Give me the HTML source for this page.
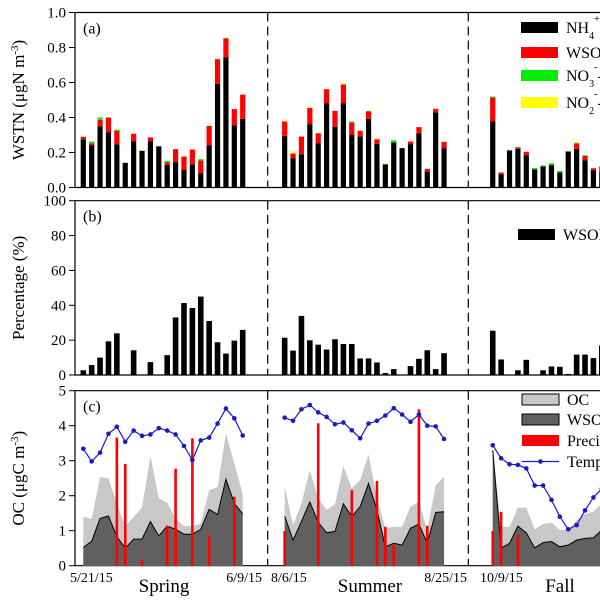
<!DOCTYPE html>
<html><head><meta charset="utf-8"><style>
html,body{margin:0;padding:0;background:#fff;}
svg{display:block;font-family:"Liberation Serif",serif;}
</style></head><body>
<svg id="chart" width="600" height="600" viewBox="0 0 600 600" xmlns="http://www.w3.org/2000/svg"></svg>
<script>
// ---- data ----
const seasons = ["Spring","Summer","Fall"];
const dateLabels = ["5/21/15","6/9/15","8/6/15","8/25/15","10/9/15"];
// panel a components (µgN m-3)
const nh4Spring = [0.276,0.24,0.349,0.316,0.246,0.141,0.263,0.21,0.263,0.234,0.13,0.143,0.10,0.131,0.082,0.24,0.592,0.743,0.356,0.392];
const wsonSpring = [0.014,0.013,0.038,0.084,0.078,0,0.044,0,0.023,0,0.015,0.076,0.077,0.086,0.072,0.112,0.141,0.108,0.092,0.139];
const no3Spring = [0,0.01,0.013,0,0.007,0,0,0,0,0.004,0.007,0,0,0,0.008,0,0.003,0.004,0,0];
const no2Spring = [0,0,0,0,0,0,0,0.004,0,0,0,0,0,0,0,0.004,0,0,0,0];
const nh4Summer = [0.295,0.168,0.19,0.36,0.253,0.48,0.347,0.482,0.30,0.291,0.392,0.25,0.133,0.257,0.225,0.248,0.31,0.091,0.429,0.225];
const wsonSummer = [0.082,0.026,0.101,0.095,0.057,0.082,0.091,0.107,0.071,0.033,0.042,0.026,0,0,0,0.015,0.035,0.016,0.021,0.036];
const no3Summer = [0,0,0,0,0,0,0,0,0.006,0,0.004,0,0,0.013,0,0,0,0,0,0];
const no2Summer = [0.006,0.012,0,0.006,0,0,0,0.007,0,0,0,0.006,0.004,0,0,0,0,0,0,0];
const nh4Fall = [0.377,0.076,0.211,0.221,0.185,0.103,0.12,0.128,0.086,0.206,0.221,0.156,0.097,0.09];
const wsonFall = [0.137,0.01,0,0.008,0.019,0,0,0,0,0,0.032,0.025,0.013,0.03];
const no3Fall = [0.006,0,0.004,0.003,0,0.008,0.006,0.011,0.009,0,0,0.004,0,0];
const no2Fall = [0,0,0,0,0,0,0,0,0,0,0.006,0,0,0];
// panel b (%)
const pctSpring = [2.7,5.7,10,19.3,23.9,0,14.2,0,7.4,0,11.4,33,41.3,38.4,45,31,18.8,12.3,19.7,25.9];
const pctSummer = [21.4,14,33.9,19.9,17.4,14.6,20.5,17.8,17.8,9.5,9.5,7.2,1.1,3.4,0,5.1,9.3,14.2,3.4,12.5];
const pctFall = [25.4,8.9,0,2.7,8.7,0,2.7,4.9,4.7,0.6,11.7,11.7,9.7,16.9];
// panel c
const ocSpring = [1.40,1.34,2.53,2.50,1.78,1.13,1.39,1.67,3.13,1.93,1.80,1.35,1.13,1.13,1.21,2.16,2.24,3.78,2.92,2.05];
const wsocSpring = [0.52,0.70,1.35,1.42,0.83,0.50,0.76,0.76,1.26,0.85,1.13,1.04,0.90,0.90,1.04,1.61,1.46,2.47,1.78,1.48];
const precipSpring = [0,0,0,0,3.66,2.91,0,0.18,0,0,1.14,2.77,0,3.64,0,0.85,0,0,1.97,0];
const tempSpring = [3.34,2.98,3.23,3.77,3.97,3.54,3.86,3.71,3.75,3.93,3.86,3.75,3.42,3.02,3.58,3.66,4.06,4.49,4.21,3.72];
const ocSummer = [2.28,1.16,1.78,2.73,1.92,1.59,1.76,2.85,2.21,2.45,3.18,1.92,1.07,1.11,1.11,1.69,1.83,1.02,2.30,2.54];
const wsocSummer = [1.42,0.73,1.26,1.82,1.24,0.94,0.98,1.77,1.40,1.69,2.35,1.59,0.54,0.64,0.59,1.07,1.19,0.64,1.52,1.54];
const precipSummer = [0.99,0,0,0,4.07,0,0,0,2.16,0,0,2.42,1.11,0.59,0,0,4.47,1.14,0,0];
const tempSummer = [4.23,4.14,4.47,4.59,4.38,4.25,4.04,4.09,3.87,3.64,4.06,4.14,4.29,4.50,4.32,4.11,4.32,4.00,3.98,3.62];
const ocFall = [3.30,1.11,1.11,1.66,1.66,1.04,1.19,1.23,1.02,1.02,1.30,1.48,1.54,1.78];
const wsocFall = [3.30,0.50,0.64,1.13,0.94,0.51,0.66,0.69,0.54,0.59,0.73,0.78,0.80,1.02];
const precipFall = [0.99,1.54,0,0.88,0,0,0,0,0,0,0,0,0,0];
const tempFall = [3.44,3.07,2.90,2.88,2.78,2.29,2.29,1.88,1.40,1.04,1.16,1.58,1.95,2.2];
const ticksA = ["0.0","0.2","0.4","0.6","0.8","1.0"];
const ticksB = ["0","20","40","60","80","100"];
const ticksC = ["0","1","2","3","4","5"];

// ---- layout ----
const NS="http://www.w3.org/2000/svg";
const svg=document.getElementById('chart');
function mk(tag,attrs,parent){const e=document.createElementNS(NS,tag);for(const k in attrs)e.setAttribute(k,attrs[k]);(parent||svg).appendChild(e);return e;}
const seasonStart=[0,24,48.8];
function xS(season,i){return 83.3+(seasonStart[season]+i)*8.39;}
const panels=[{top:12.5,bot:187.5,max:1},{top:200.7,bot:375,max:100},{top:390.7,bot:565.7,max:5}];
function yS(p,v){const P=panels[p];return P.bot-(v/P.max)*(P.bot-P.top);}
const L=75,R=600;

// axes frames
const tickSets=[ticksA,ticksB,ticksC];
const titles=["WSTN (μgN m","Percentage (%)","OC (μgC m"];
panels.forEach((P,p)=>{
  const g=mk('g',{});
  
  
  const ax=mk('path',{d:`M${L},${P.top}H${R}M${L},${P.top}V${P.bot}H${R}`,stroke:'#000','stroke-width':1.2,fill:'none'},g);
  
  
  tickSets[p].forEach(t=>{
    const y=yS(p,parseFloat(t));
    const tk=mk('line',{x1:L-6,x2:L,y1:y,y2:y,stroke:'#000','stroke-width':1},g);
    
    
    const tx=mk('text',{x:L-9,y:y+5,'text-anchor':'end','font-size':15},g);
    
    
    tx.textContent=t;
  });
  [267.7,468.3].forEach(x=>{
    const d=mk('line',{x1:x,x2:x,y1:P.top,y2:P.bot,stroke:'#000','stroke-width':1.2,'stroke-dasharray':'9,5'},g);
    
    
  });
  const lb=mk('text',{x:83,y:P.top+21,'font-size':16},g);
  
  
  lb.textContent='('+'abc'[p]+')';
  const cy=(P.top+P.bot)/2;
  const yt=mk('text',{x:0,y:0,'font-size':17,'text-anchor':'middle',transform:`translate(24,${cy}) rotate(-90)`},g);
  
  
  yt.textContent=titles[p];
  if(p!==1){const s=mk('tspan',{'baseline-shift':'super','font-size':11},yt);s.textContent='-3';const s2=mk('tspan',{},yt);s2.textContent=')';}
});

// panel a bars
const aData=[[nh4Spring,wsonSpring,no3Spring,no2Spring],[nh4Summer,wsonSummer,no3Summer,no2Summer],[nh4Fall,wsonFall,no3Fall,no2Fall]];
const aCols=['#000','#ff0000','#00ee00','#ffff00'];
const aNames=['nh4','wson','no3','no2'];
aData.forEach((sd,s)=>{
  sd[0].forEach((_,i)=>{
    let cum=0;
    for(let k=0;k<4;k++){
      const v=sd[k][i]; if(!v)continue;
      const y1=yS(0,cum+v),y0=yS(0,cum);cum+=v;
      const r=mk('rect',{x:xS(s,i)-2.6,y:y1,width:5.2,height:y0-y1,fill:aCols[k]});
      
      
    }
  });
});
// panel b bars
[pctSpring,pctSummer,pctFall].forEach((arr,s)=>arr.forEach((v,i)=>{
  if(!v)return;
  const r=mk('rect',{x:xS(s,i)-2.8,y:yS(1,v),width:5.6,height:yS(1,0)-yS(1,v),fill:'#000'});
  
  
}));
// panel c
const cData=[[ocSpring,wsocSpring,precipSpring,tempSpring],[ocSummer,wsocSummer,precipSummer,tempSummer],[ocFall,wsocFall,precipFall,tempFall]];
cData.forEach((sd,s)=>{
  const [oc,ws,pr,tp]=sd;
  const area=(arr)=>{let d=`M${xS(s,0)},${yS(2,0)}`;arr.forEach((v,i)=>d+=`L${xS(s,i)},${yS(2,v)}`);d+=`L${xS(s,arr.length-1)},${yS(2,0)}Z`;return d;};
  const a1=mk('path',{d:area(oc),fill:'#c8c8c8'});
  
  
  const a2=mk('path',{d:area(ws),fill:'#606060'});
  
  
  const ln=mk('polyline',{points:ws.map((v,i)=>xS(s,i)+','+yS(2,v)).join(' '),fill:'none',stroke:'#000','stroke-width':1});
  
  
  pr.forEach((v,i)=>{if(!v)return;
    const r=mk('rect',{x:xS(s,i)-1.3,y:yS(2,v),width:2.6,height:yS(2,0)-yS(2,v),fill:'#ff0000'});
    
    
  });
  const tl=mk('polyline',{points:tp.map((v,i)=>xS(s,i)+','+yS(2,v)).join(' '),fill:'none',stroke:'#1a1acc','stroke-width':1.2});
  
  
  tp.forEach((v,i)=>{
    const c=mk('circle',{cx:xS(s,i),cy:yS(2,v),r:2.3,fill:'#1a1acc'});
    
    
  });
});

// legends
function legBox(x,y,fill,label,name,stroke){
  const r=mk('rect',{x:x,y:y,width:37,height:11,fill:fill,stroke:stroke||'none','stroke-width':1});
  
  
  const t=mk('text',{x:x+45,y:y+11,'font-size':16});
  
  
  return t;
}
function sub(t,base,sb,sp,rest){t.textContent=base;const a=mk('tspan',{'baseline-shift':'sub','font-size':10},t);a.textContent=sb;const b=mk('tspan',{dy:-11,'font-size':10},t);b.textContent=sp;const c=mk('tspan',{dy:11},t);c.textContent=rest;}
sub(legBox(521,22,'#000','','legend-nh4'),'NH','4','+','-N');
legBox(521,47,'#ff0000','','legend-wson').textContent='WSON';
sub(legBox(521,70,'#00ee00','','legend-no3'),'NO','3','-','-N');
sub(legBox(521,97,'#ffff00','','legend-no2'),'NO','2','-','-N');
legBox(518,229,'#000','','legend-wson-pct').textContent='WSON/WSTN';
legBox(522,394,'#c8c8c8','','legend-oc','#000').textContent='OC';
legBox(522,414,'#606060','','legend-wsoc','#000').textContent='WSOC';
legBox(522,435,'#ff0000','','legend-precip').textContent='Precipitation';
const ll=mk('line',{x1:522,x2:559,y1:461.5,y2:461.5,stroke:'#1a1acc','stroke-width':1.2});


const lc=mk('circle',{cx:540.5,cy:461.5,r:2.3,fill:'#1a1acc'});


const lt=mk('text',{x:567,y:467,'font-size':16});


lt.textContent='Temperature';

// x labels
const dlX=[[70,'start'],[262,'end'],[271,'start'],[467,'end'],[480,'start']];
dateLabels.forEach((d,i)=>{
  const t=mk('text',{x:dlX[i][0],y:582,'font-size':14,'text-anchor':dlX[i][1]});
  
  
  t.textContent=d;
});
const sX=[164,370,560];
seasons.forEach((s,i)=>{
  const t=mk('text',{x:sX[i],y:592,'font-size':19,'text-anchor':'middle'});
  
  
  t.textContent=s;
});
</script>
</body></html>
